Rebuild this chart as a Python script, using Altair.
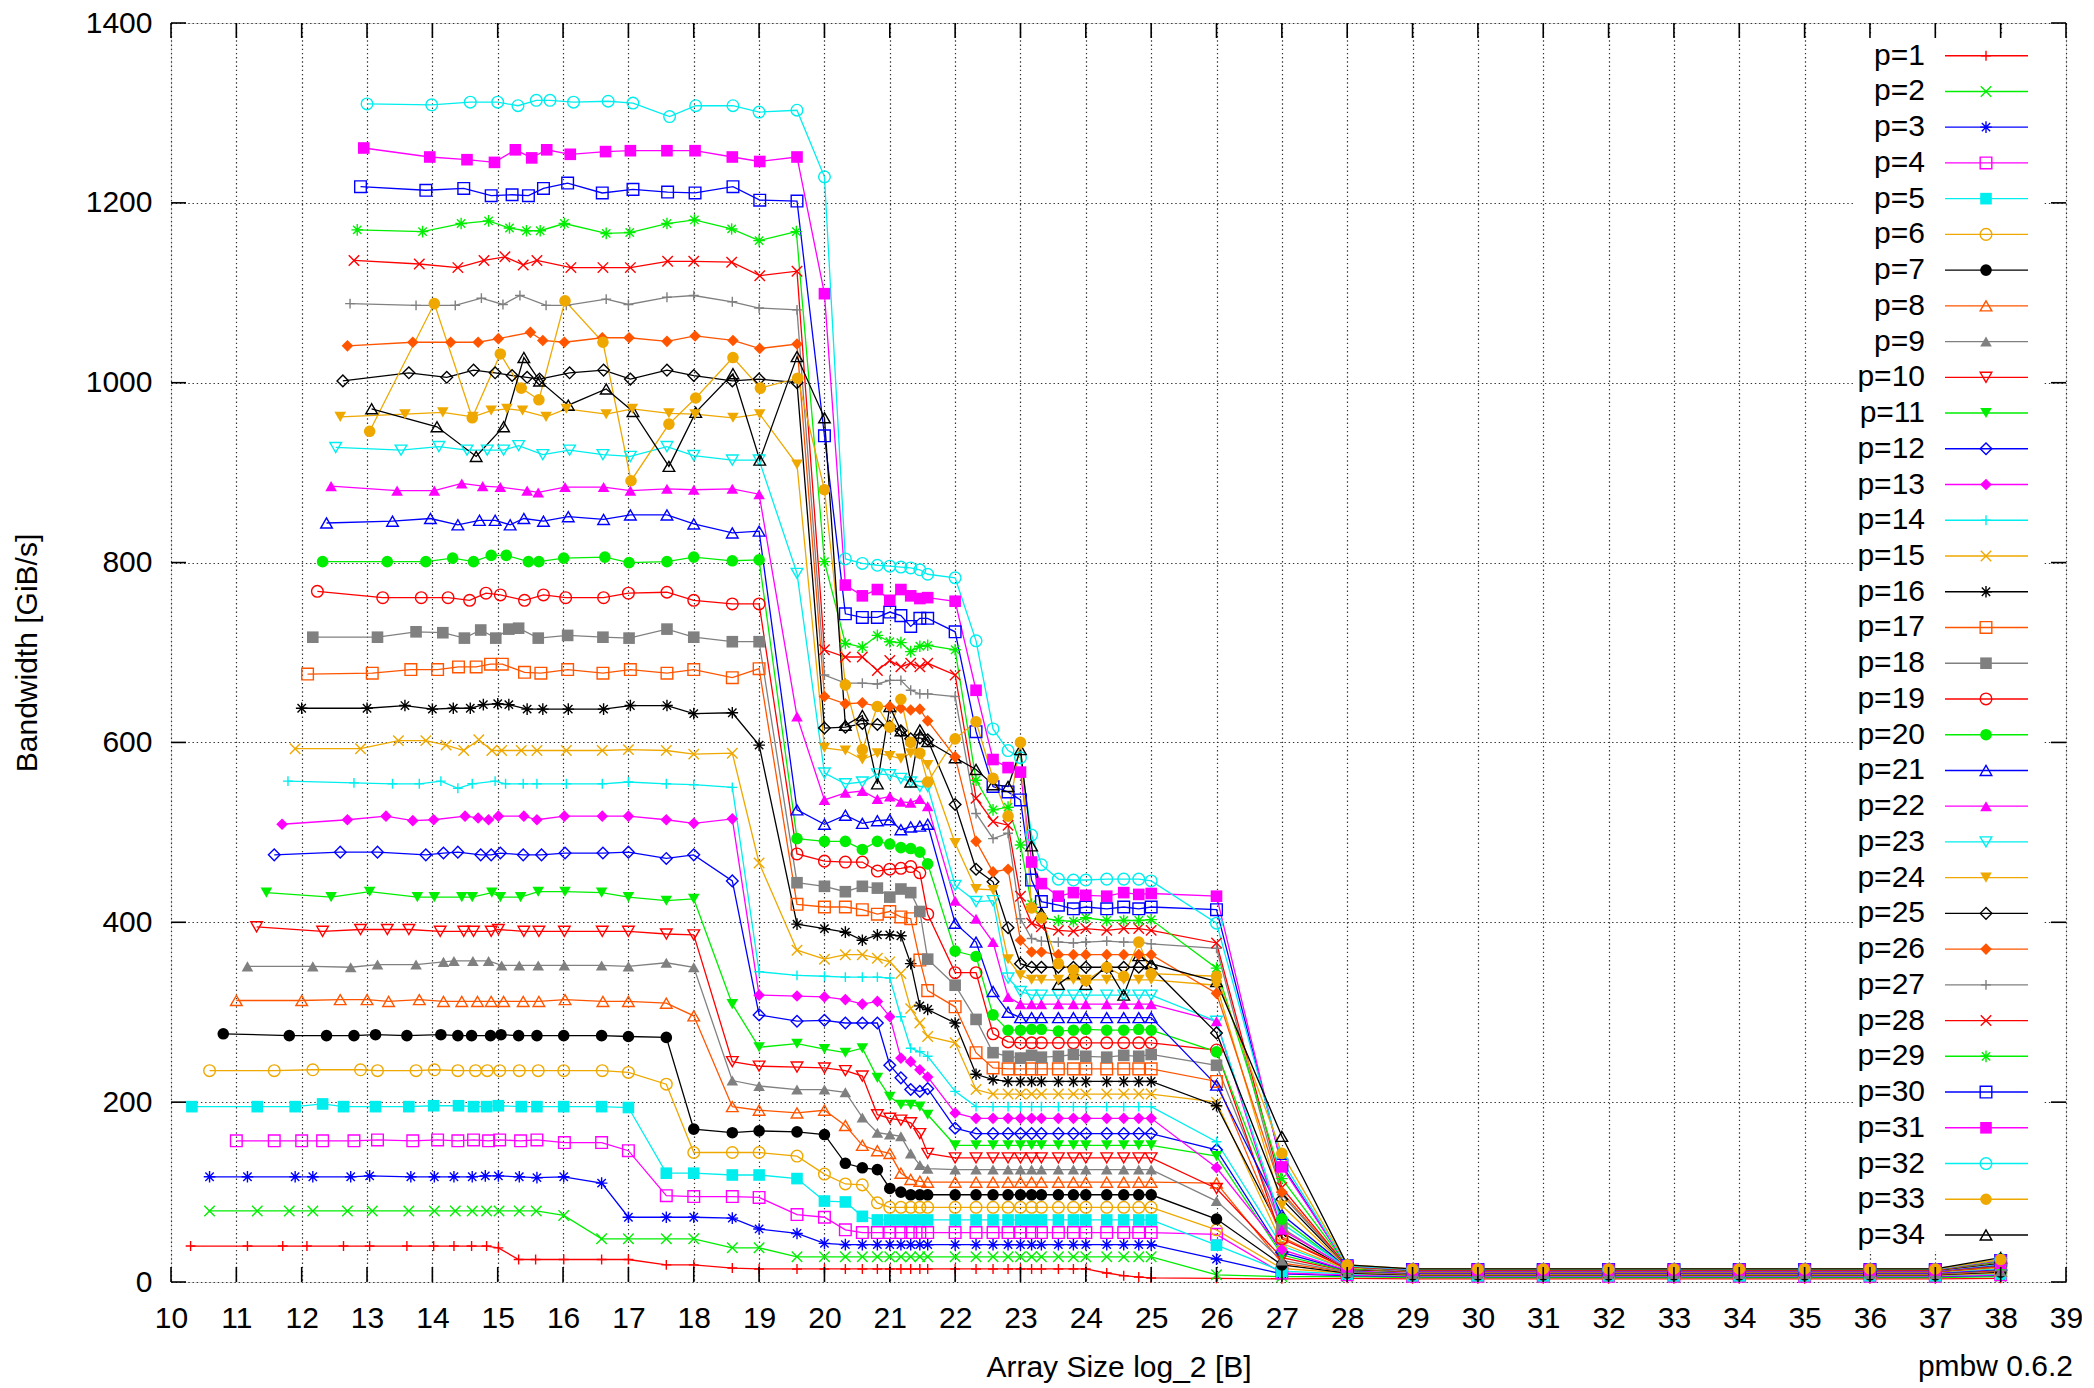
import altair as alt
import pandas as pd

X_TITLE = "Array Size log_2 [B]"
Y_TITLE = "Bandwidth [GiB/s]"
FOOTER = "pmbw 0.6.2"
LABELS = ["p=%d" % i for i in range(1, 35)]
X_TICKS = list(range(10, 40))
Y_TICKS = [0, 200, 400, 600, 800, 1000, 1200, 1400]

# common array sizes (log2) from 2^20 upwards
GRID_X = [20.0, 20.32, 20.58, 20.81, 21.0, 21.17, 21.32, 21.46, 21.58,
          22.0, 22.32, 22.58, 22.81, 23.0, 23.17, 23.32, 23.58, 23.81,
          24.0, 24.32, 24.58, 24.81, 25.0, 26.0, 27.0,
          28.0, 29.0, 30.0, 31.0, 32.0, 33.0, 34.0, 35.0, 36.0, 37.0, 38.0]

# per-series array sizes below 2^20
HEAD_X = [
    [10.30, 11.17, 11.71, 12.08, 12.64, 13.04, 13.61, 14.02, 14.33, 14.60, 14.83, 15.01, 15.32, 15.58, 16.01, 16.59, 17.0, 17.58, 18.0, 18.59, 19.0, 19.58],
    [10.59, 11.32, 11.81, 12.17, 12.70, 13.08, 13.64, 14.03, 14.35, 14.61, 14.83, 15.02, 15.33, 15.59, 16.01, 16.59, 17.0, 17.58, 18.0, 18.59, 19.0, 19.58],
    [10.59, 11.17, 11.90, 12.17, 12.75, 13.04, 13.67, 14.03, 14.33, 14.61, 14.81, 15.01, 15.33, 15.60, 16.01, 16.59, 17.0, 17.58, 18.0, 18.59, 19.0, 19.58],
    [11.0, 11.58, 12.0, 12.32, 12.80, 13.16, 13.70, 14.08, 14.39, 14.63, 14.86, 15.03, 15.35, 15.60, 16.02, 16.59, 17.0, 17.58, 18.0, 18.59, 19.0, 19.58],
    [10.32, 11.32, 11.90, 12.32, 12.64, 13.13, 13.64, 14.02, 14.40, 14.63, 14.83, 15.01, 15.36, 15.60, 16.01, 16.59, 17.0, 17.58, 18.0, 18.59, 19.0, 19.58],
    [10.59, 11.58, 12.17, 12.90, 13.16, 13.75, 14.03, 14.39, 14.66, 14.84, 15.03, 15.33, 15.62, 16.01, 16.60, 17.0, 17.58, 18.0, 18.59, 19.0, 19.58],
    [10.80, 11.81, 12.38, 12.80, 13.13, 13.61, 14.13, 14.39, 14.60, 14.89, 15.05, 15.32, 15.60, 16.01, 16.59, 17.0, 17.58, 18.0, 18.59, 19.0, 19.58],
    [11.0, 12.0, 12.59, 13.0, 13.33, 13.80, 14.17, 14.45, 14.69, 14.90, 15.09, 15.39, 15.63, 16.03, 16.61, 17.0, 17.58, 18.0, 18.59, 19.0, 19.58],
    [11.17, 12.17, 12.75, 13.16, 13.75, 14.17, 14.33, 14.62, 14.86, 15.06, 15.33, 15.62, 16.02, 16.59, 17.0, 17.58, 18.0, 18.59, 19.0, 19.58],
    [11.31, 12.32, 12.90, 13.31, 13.64, 14.12, 14.48, 14.63, 14.90, 15.01, 15.40, 15.63, 16.02, 16.60, 17.0, 17.58, 18.0, 18.59, 19.0, 19.58],
    [11.46, 12.45, 13.04, 13.77, 14.03, 14.45, 14.61, 14.91, 15.04, 15.35, 15.62, 16.03, 16.59, 17.0, 17.58, 18.0, 18.59, 19.0, 19.58],
    [11.58, 12.59, 13.16, 13.90, 14.17, 14.39, 14.74, 14.90, 15.04, 15.39, 15.67, 16.03, 16.61, 17.0, 17.58, 18.0, 18.59, 19.0, 19.58],
    [11.70, 12.70, 13.29, 13.70, 14.02, 14.50, 14.70, 14.86, 15.01, 15.40, 15.60, 16.02, 16.60, 17.0, 17.58, 18.0, 18.59, 19.0, 19.58],
    [11.79, 12.80, 13.39, 13.80, 14.13, 14.39, 14.61, 14.96, 15.12, 15.39, 15.60, 16.05, 16.60, 17.0, 17.58, 18.0, 18.59, 19.0, 19.58],
    [11.90, 12.90, 13.48, 13.90, 14.21, 14.48, 14.71, 14.91, 15.06, 15.36, 15.60, 16.05, 16.60, 17.0, 17.58, 18.0, 18.59, 19.0, 19.58],
    [12.0, 13.0, 13.58, 14.0, 14.32, 14.58, 14.78, 15.0, 15.17, 15.45, 15.69, 16.08, 16.62, 17.03, 17.59, 18.0, 18.59, 19.0, 19.58],
    [12.09, 13.08, 13.67, 14.08, 14.40, 14.67, 14.89, 15.07, 15.41, 15.66, 16.07, 16.61, 17.03, 17.59, 18.0, 18.59, 19.0, 19.58],
    [12.17, 13.16, 13.75, 14.16, 14.49, 14.74, 14.97, 15.17, 15.32, 15.62, 16.07, 16.61, 17.01, 17.59, 18.0, 18.59, 19.0, 19.58],
    [12.24, 13.24, 13.83, 14.24, 14.57, 14.82, 15.04, 15.41, 15.70, 16.04, 16.62, 17.0, 17.59, 18.0, 18.59, 19.0, 19.58],
    [12.32, 13.31, 13.90, 14.31, 14.63, 14.90, 15.13, 15.47, 15.63, 16.01, 16.64, 17.01, 17.59, 18.0, 18.59, 19.0, 19.58],
    [12.38, 13.39, 13.97, 14.39, 14.72, 14.96, 15.19, 15.40, 15.70, 16.08, 16.62, 17.03, 17.59, 18.0, 18.59, 19.0, 19.58],
    [12.45, 13.46, 14.03, 14.45, 14.77, 15.04, 15.45, 15.62, 16.03, 16.62, 17.03, 17.59, 18.0, 18.59, 19.0, 19.58],
    [12.52, 13.52, 14.10, 14.53, 14.84, 15.09, 15.32, 15.69, 16.10, 16.61, 17.03, 17.59, 18.0, 18.59, 19.0, 19.58],
    [12.59, 13.58, 14.16, 14.62, 14.90, 15.14, 15.38, 15.74, 16.05, 16.66, 17.06, 17.62, 18.02, 18.60, 19.01, 19.58],
    [12.63, 13.64, 14.22, 14.63, 14.96, 15.22, 15.45, 15.64, 16.10, 16.62, 17.03, 17.59, 18.0, 18.59, 19.0, 19.58],
    [12.70, 13.70, 14.28, 14.70, 15.01, 15.50, 15.69, 16.02, 16.60, 17.01, 17.59, 18.02, 18.60, 19.01, 19.58],
    [12.74, 13.75, 14.35, 14.75, 15.08, 15.34, 15.74, 16.05, 16.66, 17.0, 17.59, 18.0, 18.59, 19.0, 19.58],
    [12.80, 13.80, 14.39, 14.79, 15.11, 15.39, 15.60, 16.12, 16.61, 17.03, 17.60, 18.0, 18.58, 19.01, 19.58],
    [12.85, 13.85, 14.44, 14.86, 15.18, 15.44, 15.65, 16.02, 16.66, 17.02, 17.59, 18.01, 18.58, 19.0, 19.57],
    [12.90, 13.90, 14.48, 14.90, 15.22, 15.47, 15.70, 16.07, 16.60, 17.07, 17.60, 18.02, 18.60, 19.01, 19.58],
    [12.95, 13.96, 14.53, 14.95, 15.27, 15.52, 15.75, 16.11, 16.65, 17.03, 17.59, 18.02, 18.59, 19.01, 19.58],
    [13.0, 13.99, 14.58, 15.0, 15.31, 15.59, 15.80, 16.16, 16.69, 17.07, 17.63, 18.03, 18.60, 19.0, 19.58],
    [13.04, 14.03, 14.61, 15.04, 15.36, 15.63, 16.03, 16.61, 17.04, 17.62, 18.03, 18.60, 19.02, 19.59],
    [13.07, 14.07, 14.67, 15.09, 15.40, 15.64, 16.08, 16.66, 17.07, 17.62, 18.03, 18.60, 19.01, 19.58],
]

HEAD_Y = [
    [40, 40, 40, 40, 40, 40, 40, 40, 40, 40, 40, 38, 25, 25, 25, 25, 25, 19, 19, 15.5, 14.5, 14.5],
    [79, 79, 79, 79, 79, 79, 79, 79, 79, 79, 79, 79, 79, 79, 74, 48, 48, 48, 48, 38, 38, 28],
    [117, 117, 117, 117, 117, 118, 117, 117, 117, 117, 118, 118, 117, 116, 117, 110, 72, 72, 72, 71, 59, 54],
    [157, 157, 157, 157, 157, 158, 157, 158, 157, 158, 157, 158, 157, 158, 155, 155, 146, 96, 95, 95, 94, 75],
    [195, 195, 195, 198, 195, 195, 195, 196, 196, 195, 195, 196, 195, 195, 195, 195, 194, 121, 121, 119, 119, 115],
    [235, 235, 236, 236, 235, 235, 236, 235, 235, 235, 235, 235, 235, 235, 235, 233, 220, 144, 144, 144, 140],
    [276, 274, 274, 274, 275, 274, 275, 274, 274, 274, 275, 274, 274, 274, 274, 273, 272, 170, 166, 168, 167],
    [313, 313, 314, 314, 312, 314, 312, 312, 312, 312, 312, 312, 312, 314, 312, 312, 310, 296, 195, 191, 188],
    [351, 351, 350, 353, 353, 356, 357, 357, 357, 352, 352, 352, 352, 352, 351, 355, 350, 224, 218, 214],
    [395, 390, 392, 392, 392, 390, 390, 390, 390, 392, 390, 390, 390, 390, 390, 387, 386, 245, 240, 239],
    [433, 428, 434, 428, 428, 428, 428, 433, 428, 428, 434, 434, 433, 428, 424, 426, 309, 261, 265],
    [475, 478, 478, 475, 477, 478, 475, 475, 477, 475, 475, 477, 477, 478, 471, 475, 446, 297, 290],
    [509, 514, 518, 513, 514, 518, 516, 514, 518, 518, 514, 518, 518, 518, 514, 510, 515, 319, 318],
    [557, 555, 554, 554, 557, 549, 554, 557, 554, 554, 554, 554, 554, 556, 554, 553, 550, 345, 341],
    [593, 593, 602, 602, 597, 591, 603, 591, 591, 591, 591, 591, 591, 592, 591, 587, 588, 466, 369],
    [638, 638, 641, 637, 638, 638, 642, 643, 642, 637, 637, 637, 637, 641, 641, 632, 633, 597, 398],
    [676, 677, 681, 681, 684, 684, 687, 687, 678, 677, 681, 677, 681, 677, 681, 672, 682, 420],
    [717, 717, 723, 722, 716, 725, 716, 726, 727, 716, 719, 717, 716, 726, 717, 712, 712, 444],
    [768, 761, 761, 761, 758, 766, 764, 758, 764, 761, 761, 766, 767, 758, 754, 754, 476],
    [801, 801, 801, 805, 801, 808, 808, 801, 801, 805, 806, 800, 801, 806, 802, 803, 493],
    [844, 846, 849, 842, 847, 847, 842, 849, 846, 851, 848, 853, 853, 843, 833, 835, 525],
    [885, 880, 880, 888, 885, 884, 880, 878, 884, 884, 880, 882, 881, 882, 876, 629],
    [928, 925, 929, 925, 925, 925, 930, 920, 925, 920, 918, 929, 919, 914, 914, 788],
    [962, 965, 967, 962, 969, 971, 969, 962, 971, 965, 971, 966, 965, 961, 965, 909],
    [1002, 1011, 1006, 1014, 1011, 1008, 1006, 1004, 1011, 1014, 1004, 1014, 1008, 1002, 1004, 1000],
    [1041, 1045, 1045, 1045, 1049, 1056, 1047, 1045, 1050, 1050, 1046, 1052, 1047, 1038, 1043],
    [1088, 1086, 1086, 1094, 1087, 1097, 1086, 1086, 1093, 1087, 1095, 1097, 1090, 1083, 1081],
    [1136, 1132, 1128, 1136, 1140, 1131, 1136, 1128, 1128, 1128, 1135, 1135, 1134, 1119, 1124],
    [1170, 1168, 1177, 1180, 1172, 1169, 1169, 1177, 1166, 1167, 1177, 1181, 1171, 1158, 1168],
    [1218, 1214, 1216, 1208, 1209, 1208, 1216, 1222, 1211, 1215, 1212, 1211, 1218, 1203, 1202],
    [1261, 1251, 1248, 1245, 1259, 1250, 1259, 1254, 1257, 1258, 1258, 1258, 1251, 1246, 1251],
    [1310, 1309, 1312, 1312, 1308, 1314, 1314, 1312, 1313, 1311, 1296, 1308, 1308, 1301, 1303],
    [946, 1088, 961, 1032, 994, 981, 1091, 1045, 891, 954, 983, 1028, 994, 1005],
    [971, 951, 918, 951, 1028, 1002, 975, 993, 968, 907, 967, 1010, 914, 1029],
]

# values at GRID_X for each series
GRID_Y = [
    [14.5, 14.5, 14.5, 14.5, 14.5, 14.5, 14.5, 14.5, 14.5, 14.5, 14.5, 14.5, 14.5, 14.5, 14.5, 14.5, 14.5, 14.5, 14.5, 10, 7, 5.5, 4.5, 4, 3.5, 4, 3.5, 3.5, 3.5, 3.5, 3.5, 3.5, 3.5, 3.5, 3.5, 4],
    [28, 28, 28, 28, 28, 28, 28, 28, 28, 28, 28, 28, 28, 28, 28, 28, 28, 28, 28, 28, 28, 28, 28, 8, 6, 6, 5, 5, 5, 5, 5, 5, 5, 5, 5, 6],
    [43, 41.5, 41.5, 41.5, 41.5, 41.5, 41.5, 41.5, 41.5, 41.5, 41.5, 41.5, 41.5, 41.5, 41.5, 41.5, 41.5, 41.5, 41.5, 41.5, 41.5, 41.5, 41.5, 25.5, 9, 7, 6, 6, 6, 6, 6, 6, 6, 6, 6, 7.5],
    [72, 58, 55, 55, 55, 55, 55, 55, 55, 55, 55, 55, 55, 55, 55, 55, 55, 55, 55, 55, 55, 55, 55, 53, 10, 8, 6.5, 6.5, 6.5, 6.5, 6.5, 6.5, 6.5, 6.5, 6.5, 8],
    [90, 89, 73, 69, 69, 69, 69, 69, 69, 69, 69, 69, 69, 69, 69, 69, 69, 69, 69, 69, 69, 69, 69, 41, 12, 9, 7, 7, 7, 7, 7, 7, 7, 7, 7, 9],
    [120, 109, 108, 88, 83, 83, 83, 83, 83, 83, 83, 83, 83, 83, 83, 83, 83, 83, 83, 83, 83, 83, 83, 58, 15, 10, 7.5, 7.5, 7.5, 7.5, 7.5, 7.5, 7.5, 7.5, 7.5, 10],
    [164, 132, 127, 125, 104, 100, 97, 97, 97, 97, 97, 97, 97, 97, 97, 97, 97, 97, 97, 97, 97, 97, 97, 70, 19, 10, 8, 8, 8, 8, 8, 8, 8, 8, 8, 11],
    [191, 174, 152, 146, 143, 121, 114, 112, 111, 111, 111, 111, 111, 111, 111, 111, 111, 111, 111, 111, 111, 111, 111, 110, 21, 11, 8.5, 8.5, 8.5, 8.5, 8.5, 8.5, 8.5, 8.5, 8.5, 12],
    [214, 211, 183, 166, 164, 162, 143, 130, 126, 125, 125, 125, 125, 125, 125, 125, 125, 125, 125, 125, 125, 125, 125, 90, 24, 11, 9, 9, 9, 9, 9, 9, 9, 9, 9, 12],
    [238, 235, 229, 186, 182, 180, 177, 165, 143, 138, 138, 138, 138, 138, 138, 138, 138, 138, 138, 138, 138, 138, 138, 104, 27, 12, 9.5, 9.5, 9.5, 9.5, 9.5, 9.5, 9.5, 9.5, 9.5, 13],
    [259, 255, 260, 227, 206, 197, 197, 195, 186, 152, 152, 152, 152, 152, 152, 152, 152, 152, 152, 152, 152, 152, 152, 140, 30, 12, 10, 10, 10, 10, 10, 10, 10, 10, 10, 14],
    [291, 288, 288, 288, 241, 227, 214, 212, 215, 171, 165, 165, 165, 165, 165, 165, 165, 165, 165, 165, 165, 165, 165, 147, 33, 13, 10, 10, 10, 10, 10, 10, 10, 10, 10, 14],
    [317, 314, 309, 312, 295, 249, 245, 236, 228, 188, 182, 182, 182, 182, 182, 182, 182, 182, 182, 182, 182, 182, 182, 127, 36, 13, 10.5, 10.5, 10.5, 10.5, 10.5, 10.5, 10.5, 10.5, 10.5, 15],
    [340, 339, 339, 339, 338, 295, 260, 256, 251, 212, 195, 195, 195, 195, 195, 195, 195, 195, 195, 195, 195, 195, 195, 156, 40, 14, 11, 11, 11, 11, 11, 11, 11, 11, 11, 15],
    [359, 364, 364, 360, 356, 343, 304, 288, 273, 266, 214, 209, 209, 209, 209, 209, 209, 209, 209, 209, 209, 209, 209, 200, 43, 14, 11, 11, 11, 11, 11, 11, 11, 11, 11, 16],
    [393, 389, 380, 386, 386, 385, 354, 307, 303, 288, 231, 225, 223, 223, 223, 223, 223, 223, 223, 223, 223, 223, 223, 196, 55, 14, 11.5, 11.5, 11.5, 11.5, 11.5, 11.5, 11.5, 11.5, 11.5, 17],
    [417, 417, 414, 409, 412, 406, 404, 358, 324, 306, 255, 238, 237, 237, 237, 237, 237, 237, 237, 237, 237, 237, 237, 223, 50, 15, 11.5, 11.5, 11.5, 11.5, 11.5, 11.5, 11.5, 11.5, 11.5, 17],
    [440, 434, 440, 438, 428, 437, 433, 412, 359, 330, 292, 255, 251, 249, 252, 250, 251, 253, 251, 250, 252, 251, 253, 241, 60, 15, 12, 12, 12, 12, 12, 12, 12, 12, 12, 18],
    [468, 467, 467, 457, 459, 460, 462, 455, 409, 344, 344, 276, 267, 266, 266, 266, 266, 266, 266, 266, 266, 266, 266, 258, 48, 15, 12, 12, 12, 12, 12, 12, 12, 12, 12, 18],
    [490, 490, 481, 490, 487, 483, 482, 478, 465, 368, 362, 297, 280, 280, 281, 281, 279, 280, 281, 280, 280, 281, 280, 256, 70, 15, 12.5, 12.5, 12.5, 12.5, 12.5, 12.5, 12.5, 12.5, 12.5, 19],
    [509, 519, 510, 513, 514, 503, 506, 507, 509, 399, 378, 323, 300, 294, 294, 294, 294, 294, 294, 294, 294, 294, 294, 219, 75, 16, 12.5, 12.5, 12.5, 12.5, 12.5, 12.5, 12.5, 12.5, 12.5, 19],
    [536, 544, 546, 537, 540, 534, 533, 537, 529, 424, 404, 378, 317, 309, 309, 309, 309, 309, 309, 309, 309, 309, 309, 290, 58, 16, 12.5, 12.5, 12.5, 12.5, 12.5, 12.5, 12.5, 12.5, 12.5, 20],
    [566, 554, 556, 565, 564, 560, 556, 551, 551, 441, 423, 424, 338, 323, 319, 319, 319, 319, 319, 319, 319, 319, 319, 290, 65, 16, 13, 13, 13, 13, 13, 13, 13, 13, 13, 20],
    [594, 591, 581, 588, 585, 582, 588, 586, 575, 488, 437, 436, 359, 341, 336, 336, 336, 336, 336, 336, 336, 336, 336, 330, 85, 16, 13, 13, 13, 13, 13, 13, 13, 13, 13, 21],
    [616, 617, 621, 620, 618, 613, 604, 605, 603, 531, 459, 445, 394, 354, 350, 350, 350, 350, 350, 350, 350, 350, 350, 277, 92, 17, 13, 13, 13, 13, 13, 13, 13, 13, 13, 21],
    [651, 643, 644, 640, 640, 638, 636, 637, 624, 584, 490, 456, 459, 380, 367, 367, 364, 364, 364, 364, 364, 364, 364, 321, 100, 17, 13.5, 13.5, 13.5, 13.5, 13.5, 13.5, 13.5, 13.5, 13.5, 22],
    [675, 666, 666, 665, 669, 669, 658, 654, 654, 651, 521, 493, 499, 404, 382, 379, 378, 377, 378, 379, 378, 378, 376, 371, 97, 17, 13.5, 13.5, 13.5, 13.5, 13.5, 13.5, 13.5, 13.5, 13.5, 22],
    [703, 695, 695, 680, 691, 684, 688, 684, 688, 675, 538, 512, 508, 429, 399, 395, 391, 390, 393, 391, 393, 393, 391, 377, 105, 17, 13.5, 13.5, 13.5, 13.5, 13.5, 13.5, 13.5, 13.5, 13.5, 23],
    [801, 710, 706, 719, 712, 711, 701, 707, 708, 703, 558, 525, 528, 486, 420, 405, 402, 401, 405, 402, 402, 402, 403, 349, 115, 18, 14, 14, 14, 14, 14, 14, 14, 14, 14, 23],
    [941, 743, 739, 739, 745, 741, 729, 738, 738, 723, 612, 551, 545, 536, 447, 423, 419, 415, 417, 415, 417, 415, 417, 414, 130, 18, 14, 14, 14, 14, 14, 14, 14, 14, 14, 24],
    [1099, 775, 763, 770, 758, 770, 763, 760, 761, 757, 658, 581, 572, 567, 467, 443, 429, 433, 430, 429, 433, 431, 432, 429, 128, 18, 14, 14, 14, 14, 14, 14, 14, 14, 14, 24],
    [1229, 804, 799, 797, 796, 795, 794, 792, 787, 783, 713, 615, 591, 583, 497, 464, 448, 447, 447, 448, 448, 448, 446, 399, 135, 18, 14, 14, 14, 14, 14, 14, 14, 14, 14, 25],
    [881, 664, 592, 640, 617, 648, 600, 588, 556, 604, 623, 560, 518, 600, 416, 405, 354, 347, 335, 350, 340, 378, 343, 340, 143, 19, 14.5, 14.5, 14.5, 14.5, 14.5, 14.5, 14.5, 14.5, 14.5, 25],
    [961, 619, 630, 554, 640, 613, 556, 614, 601, 583, 570, 553, 551, 592, 485, 410, 331, 343, 331, 351, 319, 363, 354, 334, 162, 19, 14.5, 14.5, 14.5, 14.5, 14.5, 14.5, 14.5, 14.5, 14.5, 27],
]

# ---------------- styling ----------------
FONT = "Liberation Sans"
FS = 30
W, H = 1895, 1259
MS = 135
COLOR_CYCLE = ["#ff0000", "#00ee00", "#0000ff", "#ff00ff", "#00eeee",
               "#eea800", "#000000", "#ff5500", "#808080"]
PLUS = "M-0.85,0L0.85,0M0,-0.85L0,0.85"
CROSS = "M-0.9,-0.9L0.9,0.9M-0.9,0.9L0.9,-0.9"
STAR = "M-1,0L1,0M0,-1L0,1M-0.72,-0.72L0.72,0.72M-0.72,0.72L0.72,-0.72"
PT_SHAPES = [PLUS, CROSS, STAR, "square", "square", "circle", "circle",
             "triangle-up", "triangle-up", "triangle-down", "triangle-down",
             "diamond", "diamond"]
PT_FILLED = [False, False, False, False, True, False, True,
             False, True, False, True, False, True]

colors = [COLOR_CYCLE[i % 9] for i in range(len(LABELS))]
shapes = [PT_SHAPES[i % 13] for i in range(len(LABELS))]
FILLED = [LABELS[i] for i in range(len(LABELS)) if PT_FILLED[i % 13]]
OPEN = [LABELS[i] for i in range(len(LABELS)) if not PT_FILLED[i % 13]]

rows = []
for i, lab in enumerate(LABELS):
    xs = HEAD_X[i] + GRID_X
    ys = HEAD_Y[i] + GRID_Y[i]
    for k, (xv, yv) in enumerate(zip(xs, ys)):
        rows.append({"series": lab, "x": xv, "y": yv, "k": k, "s": i})
df = pd.DataFrame(rows)
legdf = pd.DataFrame({"series": LABELS})

xscale = alt.Scale(domain=[10, 39], nice=False, zero=False)
yscale = alt.Scale(domain=[0, 1400], nice=False, zero=False)
color_scale = alt.Scale(domain=LABELS, range=colors)
shape_scale = alt.Scale(domain=LABELS, range=shapes)
GRID_KW = dict(grid=True, gridDash=[1.4, 2.8], gridColor="#333", gridWidth=1.2,
               gridOpacity=1, ticks=False, domain=False, labelFontSize=FS,
               labelFont=FONT, labelColor="black", labelFlush=False,
               labelOverlap=False, format="d", titleFontSize=FS, titleFont=FONT,
               titleFontWeight="normal", titleColor="black")
x_axis = alt.Axis(values=X_TICKS, title=X_TITLE, labelPadding=21, orient="bottom",
                  titleX=W / 2, titleY=85, titleBaseline="middle", **GRID_KW)
y_axis = alt.Axis(values=Y_TICKS, title=Y_TITLE, labelPadding=19, orient="left",
                  titleX=-144, titleY=H / 2, titleAngle=270,
                  titleBaseline="middle", **GRID_KW)

color_enc = alt.Color("series:N", scale=color_scale, legend=None)
shape_enc = alt.Shape("series:N", scale=shape_scale, legend=None)
X_ = alt.X("x:Q", scale=xscale, axis=None)
Y_ = alt.Y("y:Q", scale=yscale, axis=None)

one = pd.DataFrame({"t": [FOOTER]})

# opaque key background
box = alt.Chart(one).mark_rect(color="white").encode(
    x=alt.value(1683), x2=alt.value(1872), y=alt.value(12), y2=alt.value(1228))

lines = alt.Chart(df).mark_line(strokeWidth=1.3, clip=True).encode(
    x=alt.X("x:Q", scale=xscale, axis=x_axis),
    y=alt.Y("y:Q", scale=yscale, axis=y_axis),
    color=color_enc, order=alt.Order("k:Q"))

pts_open = alt.Chart(df).transform_filter(
    alt.FieldOneOfPredicate(field="series", oneOf=OPEN)
).mark_point(filled=False, size=MS, strokeWidth=1.4, opacity=1).encode(
    x=X_, y=Y_, color=color_enc, shape=shape_enc)

pts_fill = alt.Chart(df).transform_filter(
    alt.FieldOneOfPredicate(field="series", oneOf=FILLED)
).mark_point(filled=True, size=MS, opacity=1).encode(
    x=X_, y=Y_, color=color_enc, shape=shape_enc)

xt = pd.DataFrame({"t": X_TICKS})
yt = pd.DataFrame({"v": Y_TICKS})
TK = dict(color="black", strokeWidth=1.6)
tick_b = alt.Chart(xt).mark_rule(**TK).encode(
    x=alt.X("t:Q", scale=xscale, axis=None), y=alt.value(H), y2=alt.value(H - 15))
tick_t = alt.Chart(xt).mark_rule(**TK).encode(
    x=alt.X("t:Q", scale=xscale, axis=None), y=alt.value(0), y2=alt.value(15))
tick_l = alt.Chart(yt).mark_rule(**TK).encode(
    y=alt.Y("v:Q", scale=yscale, axis=None), x=alt.value(0), x2=alt.value(15))
tick_r = alt.Chart(yt).mark_rule(**TK).encode(
    y=alt.Y("v:Q", scale=yscale, axis=None), x=alt.value(W), x2=alt.value(W - 15))

leg_y = alt.Y("series:N", scale=alt.Scale(type="point", domain=LABELS,
                                           range=[32.7, 1212], padding=0),
              axis=None)
leg_line = alt.Chart(legdf).mark_rule(strokeWidth=1.4).encode(
    x=alt.value(1774), x2=alt.value(1857), y=leg_y, color=color_enc)
leg_open = alt.Chart(legdf).transform_filter(
    alt.FieldOneOfPredicate(field="series", oneOf=OPEN)
).mark_point(filled=False, size=MS, strokeWidth=1.4, opacity=1).encode(
    x=alt.value(1815), y=leg_y, color=color_enc, shape=shape_enc)
leg_fill = alt.Chart(legdf).transform_filter(
    alt.FieldOneOfPredicate(field="series", oneOf=FILLED)
).mark_point(filled=True, size=MS, opacity=1).encode(
    x=alt.value(1815), y=leg_y, color=color_enc, shape=shape_enc)
leg_text = alt.Chart(legdf).mark_text(
    align="right", baseline="middle", fontSize=FS, font=FONT, color="black"
).encode(x=alt.value(1754), y=leg_y, text="series:N")

footer = alt.Chart(one).mark_text(
    align="right", baseline="middle", fontSize=FS, font=FONT, color="black"
).encode(x=alt.value(1902), y=alt.value(1344), text="t:N")

chart = alt.layer(
    box, lines, pts_open, pts_fill, tick_b, tick_t, tick_l, tick_r,
    leg_line, leg_open, leg_fill, leg_text, footer
).resolve_scale(x="independent", y="independent").properties(
    width=W, height=H,
    autosize=alt.AutoSizeParams(type="none"),
    padding={"left": 163, "top": 15, "right": 16, "bottom": 106},
).configure_view(stroke="black", strokeWidth=2).configure(font=FONT)

chart.save("out.html", embed_options={"renderer": "svg", "actions": False})
